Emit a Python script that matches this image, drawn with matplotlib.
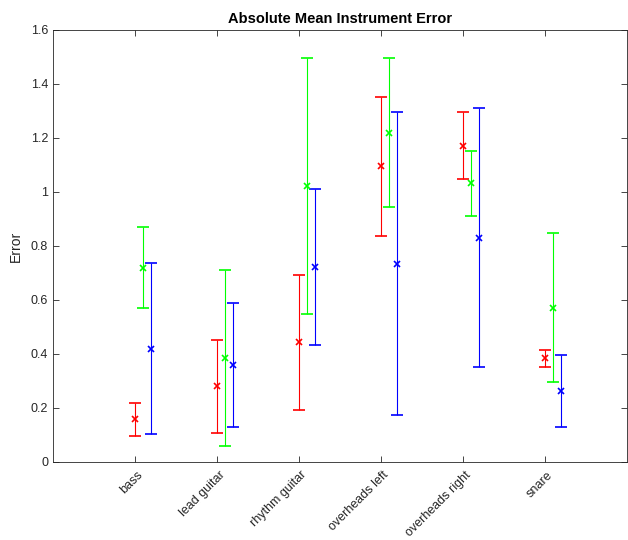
import numpy as np
import matplotlib.pyplot as plt
import matplotlib.transforms as mtransforms

plt.rcParams['font.family'] = ['Liberation Sans', 'DejaVu Sans']

# instrumentos y valores
instruments = ['bass', 'lead guitar', 'rhythm guitar', 'overheads left',
               'overheads right', 'snare']

red_mean = [0.158, 0.280, 0.444, 1.095, 1.172, 0.384]
red_err = [0.062, 0.172, 0.250, 0.257, 0.124, 0.032]

green_mean = [0.720, 0.384, 1.022, 1.220, 1.032, 0.572]
green_err = [0.151, 0.326, 0.473, 0.277, 0.121, 0.275]

blue_mean = [0.420, 0.359, 0.723, 0.735, 0.831, 0.263]
blue_err = [0.318, 0.229, 0.288, 0.560, 0.479, 0.133]

y_ticks = [0, 0.2, 0.4, 0.6, 0.8, 1, 1.2, 1.4, 1.6]
y_tick_labels = ['0', '0.2', '0.4', '0.6', '0.8', '1', '1.2', '1.4', '1.6']

x = np.arange(1, len(instruments) + 1)

fig = plt.figure(figsize=(6.28, 5.4), dpi=100)
ax = fig.add_axes([53 / 628, 1 - 462 / 540, 574 / 628, 432 / 540])

series = [(red_mean, red_err, (1, 0, 0), 0.0),
          (green_mean, green_err, (0, 1, 0), 0.1),
          (blue_mean, blue_err, (0, 0, 1), 0.2)]
for mean, err, color, offset in series:
    ax.errorbar(x + offset, mean, yerr=err, fmt='x', color=color,
                ecolor=color, elinewidth=0.8, capsize=4, capthick=0.8,
                markersize=5, markeredgewidth=1.2, linestyle='none')

ax.set_xlim(0, 7)
ax.set_ylim(0, 1.6)
ax.tick_params(axis='x', pad=8)
ax.tick_params(direction='in', top=True, right=True, length=4, width=0.6,
               color='0.15')
ax.set_xticks(x)
ax.set_xticklabels(instruments, rotation=45, ha='right', va='center',
                   rotation_mode='anchor', fontsize=9, color='0.15')
ax.set_yticks(y_ticks)
ax.set_yticklabels(y_tick_labels, fontsize=9, color='0.15')
for s in ax.spines.values():
    s.set_color('0.15')
    s.set_linewidth(0.6)

# desplazar un poco las etiquetas rotadas a la derecha
offset = mtransforms.ScaledTranslation(6 / 100, 0, fig.dpi_scale_trans)
for lbl in ax.get_xticklabels():
    lbl.set_transform(lbl.get_transform() + offset)

ax.set_ylabel('Error', fontsize=10, color='0.15', labelpad=6)
ax.set_title('Absolute Mean Instrument Error', fontsize=10.5, fontweight='bold', pad=5)

plt.savefig('out.png', dpi=100)
plt.close()
